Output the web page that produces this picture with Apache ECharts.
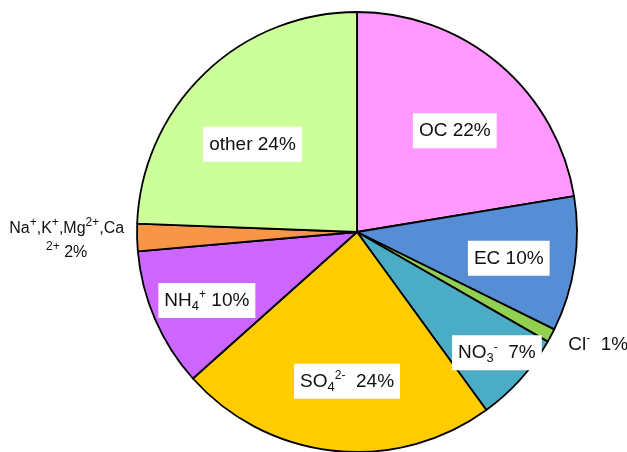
<!DOCTYPE html>
<html><head><meta charset="utf-8">
<script src="https://cdn.jsdelivr.net/npm/echarts@6/dist/echarts.min.js"></script>
<style>html,body{margin:0;padding:0;background:#fff}#c{width:627px;height:452px}</style>
</head><body><div id="c"></div>
<script>
// Data
const categories = ['OC', 'EC', 'Cl-', 'NO3-', 'SO4 2-', 'NH4+', 'Na+,K+,Mg2+,Ca2+', 'other'];
const values = [22.4, 9.9, 1.0, 6.7, 23.4, 10.2, 2.0, 24.4];
const percentLabels = ['22%', '10%', '1%', '7%', '24%', '10%', '2%', '24%'];
const richNames = ['OC', 'EC', 'Cl{sup|-} ', 'NO{sub|3}{sup|-} ', 'SO{sub|4}{sup|2-} ', 'NH{sub|4}{sup|+}', 'Na{sup|+},K{sup|+},Mg{sup|2+},Ca\n{sup|2+}', 'other'];

// Styles / layout
const colors = ['#FF99FF', '#558ED5', '#92D050', '#4BACC6', '#FFCC00', '#CC66FF', '#F79646', '#CCFF99'];
const outsideIdx = [2, 6];
const labelAngle = [44, 99.8, 115, 130.8, 183.8, 245.5, 268.4, 310];
const labelDist = [0.64, 0.70, 1.21, 0.84, 0.68, 0.75, 1.32, 0.62];
const CX = 357, CY = 232, R = 220;
const FONT = '"Liberation Sans", Arial, sans-serif';

const chart = echarts.init(document.getElementById('c'), null, { renderer: 'canvas' });

const data = categories.map((c, i) => {
  const outside = outsideIdx.includes(i);
  return {
    name: c,
    value: values[i],
    itemStyle: { color: colors[i] },
    label: {
      formatter: richNames[i] + ' ' + percentLabels[i],
      backgroundColor: outside ? 'transparent' : '#fff',
      fontSize: i === 6 ? 16 : 19,
      lineHeight: 24
    }
  };
});

chart.setOption({
  animation: false,
  series: [{
    type: 'pie',
    center: [CX, CY],
    radius: R,
    startAngle: 90,
    clockwise: true,
    avoidLabelOverlap: false,
    emphasis: { disabled: true },
    itemStyle: { borderColor: '#000', borderWidth: 1.8 },
    label: {
      show: true,
      position: 'inside',
      color: '#111',
      fontFamily: FONT,
      fontSize: 19,
      lineHeight: 24,
      padding: [6, 6, 5, 6],
      backgroundColor: '#fff',
      rich: {
        sup: { fontSize: 12, lineHeight: 14, verticalAlign: 'top', fontFamily: FONT, color: '#111' },
        sub: { fontSize: 13, lineHeight: 13, verticalAlign: 'bottom', fontFamily: FONT, color: '#111' }
      }
    },
    labelLine: { show: false },
    labelLayout: function (p) {
      const i = p.dataIndex;
      const a = labelAngle[i] * Math.PI / 180;
      return {
        x: CX + labelDist[i] * R * Math.sin(a),
        y: CY - labelDist[i] * R * Math.cos(a),
        align: 'center',
        verticalAlign: 'middle'
      };
    },
    data: data
  }]
});
</script>
</body></html>
